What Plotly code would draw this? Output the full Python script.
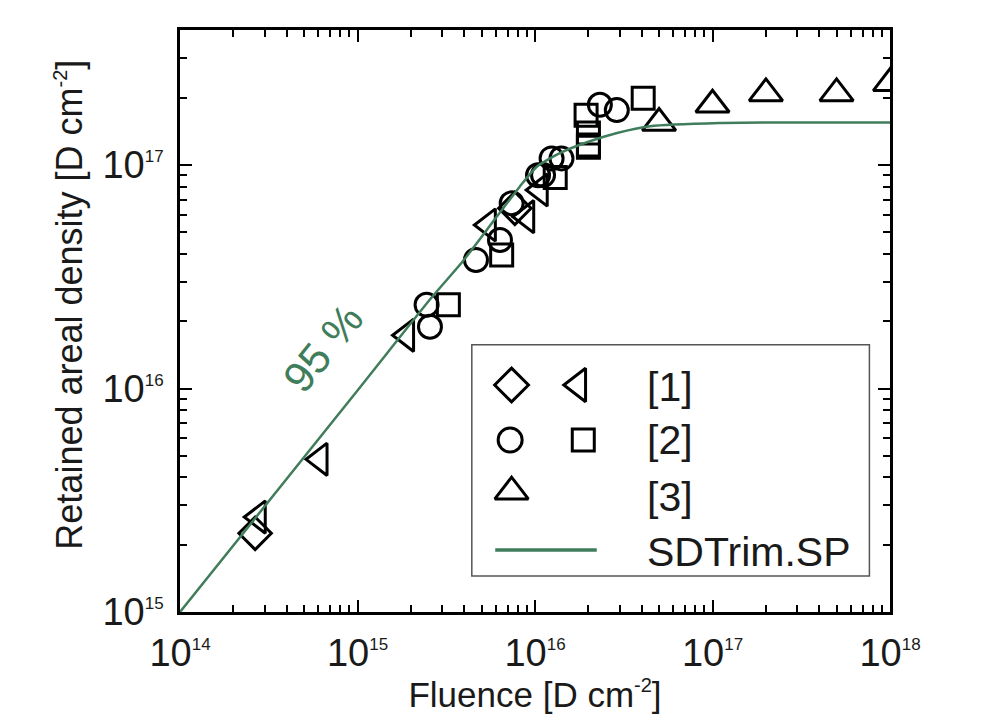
import plotly.graph_objects as go

# ---------------- data ----------------
# [1] diamonds
ref1_diamond_fluence = [2.65e14, 7.7e15]
ref1_diamond_retained = [2.25e15, 6.4e16]
# [1] left-pointing triangles
ref1_tri_fluence = [2.76e14, 6.15e14, 1.89e15, 5.46e15, 8.98e15, 1.07e16]
ref1_tri_retained = [2.66e15, 4.82e15, 1.73e16, 5.39e16, 5.87e16, 7.73e16]
# [2] circles
ref2_circle_fluence = [2.45e15, 2.56e15, 4.65e15, 6.35e15, 7.39e15, 1.11e16,
                       1.04e16, 1.24e16, 1.41e16, 2.32e16, 2.89e16]
ref2_circle_retained = [2.37e16, 1.89e16, 3.76e16, 4.62e16, 6.74e16, 9.02e16,
                        9.0e16, 1.07e17, 1.07e17, 1.86e17, 1.76e17]
# [2] squares
ref2_square_fluence = [3.25e15, 6.49e15, 1.3e16, 1.94e16, 2.0e16, 2.0e16, 2.0e16, 4.07e16]
ref2_square_retained = [2.37e16, 3.96e16, 8.8e16, 1.67e17, 1.39e17, 1.23e17, 1.20e17, 1.99e17]
# [3] up triangles
ref3_fluence = [5e16, 1e17, 2e17, 5e17, 1e18]
ref3_retained = [1.54e17, 1.86e17, 2.09e17, 2.09e17, 2.32e17]
# SDTrim.SP curve
sdtrim_fluence = [1e14, 1e15, 2.6e15, 3.9e15, 5.35e15, 8.2e15, 1.02e16, 1.38e16,
                  2.0e16, 2.9e16, 4.45e16, 1.1e17, 3e17, 1e18]
sdtrim_retained = [1.0e15, 9.8e15, 2.54e16, 3.69e16, 5.12e16, 8.0e16, 9.8e16, 1.13e17,
                   1.27e17, 1.39e17, 1.49e17, 1.54e17, 1.55e17, 1.55e17]

x_major = [1e14, 1e15, 1e16, 1e17, 1e18]
x_major_labels = ["10<sup><span style='font-size:17px'>14</span></sup>",
                  "10<sup><span style='font-size:17px'>15</span></sup>",
                  "10<sup><span style='font-size:17px'>16</span></sup>",
                  "10<sup><span style='font-size:17px'>17</span></sup>",
                  "10<sup><span style='font-size:17px'>18</span></sup>"]
y_major = [1e15, 1e16, 1e17]
y_major_labels = ["10<sup><span style='font-size:17px'>15</span></sup>",
                  "10<sup><span style='font-size:17px'>16</span></sup>",
                  "10<sup><span style='font-size:17px'>17</span></sup>"]

legend_labels = ["[1]", "[2]", "[3]", "SDTrim.SP"]
x_title = "Fluence [D cm<sup><span style='font-size:20px'>-2</span></sup>]"
y_title = "Retained areal density [D cm<sup><span style='font-size:20px'>-2</span></sup>]"

GREEN = "#3f7d5b"
FONT = "Liberation Sans"

x_minor = [m * 10 ** e for e in range(14, 18) for m in range(2, 10)]
y_minor = [m * 10 ** e for e in range(15, 18) for m in range(2, 10) if m * 10 ** e < 4e17]


def mk(symbol, size):
    return dict(symbol=symbol, size=size, color="black", line=dict(width=3, color="black"))


fig = go.Figure()
fig.add_trace(go.Scatter(x=ref1_diamond_fluence, y=ref1_diamond_retained, mode="markers",
                         marker=mk("diamond-open", 25), showlegend=False))
fig.add_trace(go.Scatter(x=ref1_tri_fluence, y=ref1_tri_retained, mode="markers",
                         marker=mk("triangle-left-open", 28), showlegend=False))
fig.add_trace(go.Scatter(x=ref2_circle_fluence, y=ref2_circle_retained, mode="markers",
                         marker=mk("circle-open", 23), showlegend=False))
fig.add_trace(go.Scatter(x=ref2_square_fluence, y=ref2_square_retained, mode="markers",
                         marker=mk("square-open", 22), showlegend=False))
fig.add_trace(go.Scatter(x=ref3_fluence, y=ref3_retained, mode="markers",
                         marker=mk("triangle-up-open", 29), showlegend=False))
fig.add_trace(go.Scatter(x=sdtrim_fluence, y=sdtrim_retained, mode="lines",
                         line=dict(color=GREEN, width=2.5, shape="spline", smoothing=0.6),
                         showlegend=False))

# ----- hand-built legend on an overlay axis spanning the plot area -----
leg_sym_x = [0.467, 0.561, 0.465, 0.568, 0.467]
leg_sym_y = [0.390, 0.390, 0.2955, 0.2955, 0.2067]
leg_syms = [("diamond-open", 26), ("triangle-left-open", 29), ("circle-open", 24),
            ("square-open", 22), ("triangle-up-open", 29)]
for (sx, sy, (sym, sz)) in zip(leg_sym_x, leg_sym_y, leg_syms):
    fig.add_trace(go.Scatter(x=[sx], y=[sy], xaxis="x2", yaxis="y2", mode="markers",
                             marker=mk(sym, sz), showlegend=False, cliponaxis=False))
fig.add_trace(go.Scatter(x=[0.444, 0.587], y=[0.1065, 0.1065], xaxis="x2", yaxis="y2",
                         mode="lines", line=dict(color=GREEN, width=3.5), showlegend=False))

fig.add_shape(type="rect", xref="paper", yref="paper", x0=0.411, x1=0.971, y0=0.062, y1=0.459,
              line=dict(color="#555555", width=1.5))
for lab, ly in zip(legend_labels, [0.387, 0.2955, 0.198, 0.1036]):
    fig.add_annotation(text=lab, xref="paper", yref="paper", x=0.655, y=ly,
                       xanchor="left", yanchor="middle", showarrow=False,
                       font=dict(family=FONT, size=41, color="#1a1a1a"))

fig.add_annotation(text="95 %", x=14.806, y=16.181, xref="x", yref="y", showarrow=False,
                   textangle=-51, font=dict(family=FONT, size=43, color=GREEN))

# y-axis title placed as a rotated annotation (centred slightly above the plot middle)
fig.add_annotation(text=y_title, xref="paper", yref="paper", x=-0.155, y=0.528,
                   xanchor="center", yanchor="middle", textangle=-90, showarrow=False,
                   font=dict(family=FONT, size=36, color="#1a1a1a"))

axis_common = dict(type="log", showgrid=False, zeroline=False, showline=True,
                   linecolor="black", linewidth=2.5, mirror="ticks", ticks="inside",
                   ticklen=12, tickwidth=2, tickcolor="black",
                   tickfont=dict(family=FONT, size=38, color="#1a1a1a"))

fig.update_layout(
    width=985, height=727,
    margin=dict(l=180, r=95, t=30, b=115),
    paper_bgcolor="white", plot_bgcolor="white",
    xaxis=dict(**axis_common, range=[14, 18], tickmode="array", tickvals=x_major,
               ticktext=x_major_labels, ticklabelstandoff=6,
               minor=dict(tickmode="array", tickvals=x_minor, ticks="inside", ticklen=7,
                          tickwidth=2, tickcolor="black"),
               title=dict(text=x_title,
                          font=dict(family=FONT, size=35, color="#1a1a1a"), standoff=2)),
    yaxis=dict(**axis_common, range=[15, 17.604], tickmode="array", tickvals=y_major,
               ticktext=y_major_labels, ticklabelstandoff=6,
               minor=dict(tickmode="array", tickvals=y_minor, ticks="inside", ticklen=7,
                          tickwidth=2, tickcolor="black")),
    xaxis2=dict(overlaying="x", range=[0, 1], visible=False, fixedrange=True),
    yaxis2=dict(overlaying="y", range=[0, 1], visible=False, fixedrange=True),
)

fig.write_html("out.html")
